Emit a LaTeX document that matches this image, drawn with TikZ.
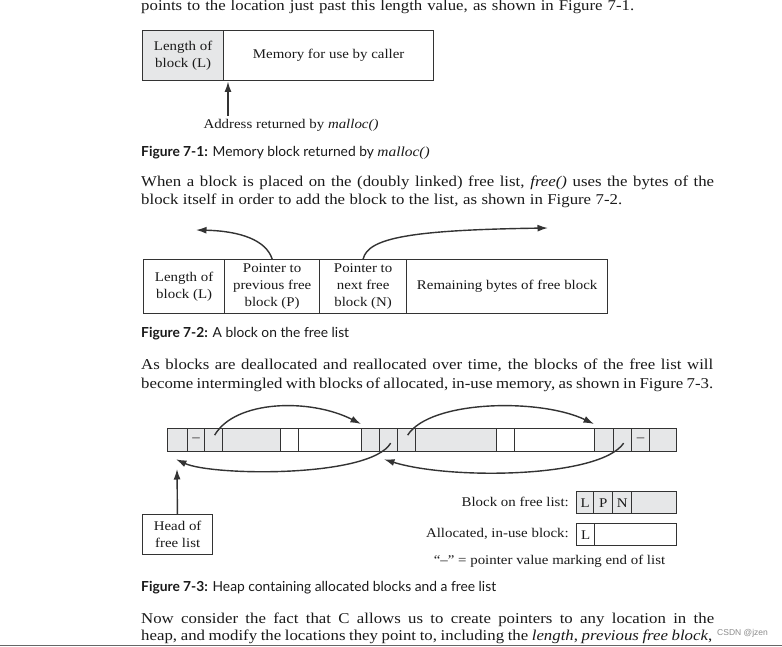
\documentclass[tikz,border=0pt]{standalone}
\usepackage{fontspec}
\setmainfont[FakeStretch=1.12]{Liberation Serif}
\newfontfamily\capfont{Lato}
\newfontfamily\wmfont{Liberation Sans}
\usetikzlibrary{arrows.meta,calc}
\definecolor{ink}{HTML}{333333}
\definecolor{cellgray}{HTML}{E6E7E8}
\definecolor{txt}{HTML}{1A1A1A}
\newcommand\bodyf{\fontsize{15}{18}\selectfont}
\newcommand\diagf{\fontsize{13.3}{17}\selectfont}
\newcommand\capf{\capfont\fontsize{13.8}{15}\selectfont}
\tikzset{
  cell/.style={draw=ink, line width=1.3pt, fill=white, anchor=north west, inner sep=0pt, align=center, font=\diagf, text=txt},
  gcell/.style={cell, fill=cellgray},
  arr/.style={draw=ink, line width=1.4pt, -{Latex[length=10.5pt,width=7pt]}},
  bodytext/.style={anchor=base west, inner sep=0pt, font=\bodyf, text=txt},
  captext/.style={anchor=base west, inner sep=0pt, font=\capf, text=txt},
  lbl/.style={inner sep=0pt, font=\diagf, text=txt},
}
\begin{document}
\begin{tikzpicture}[x=1pt,y=-1pt]
\useasboundingbox[fill=white] (0,0) rectangle (782,647);

% ---------- text lines ----------
\node[bodytext] (l0) at (141,10.5) {\makebox[493pt][s]{points to the location just past this length value, as shown in Figure 7-1.}};
\node[captext] (c1) at (141,157) {\textbf{Figure 7-1:} Memory block returned by {\rmfamily\itshape malloc()}};
\node[bodytext] (p2a) at (141,187) {\makebox[573pt][s]{When a block is placed on the (doubly linked) free list, \textit{free()} uses the bytes of the}};
\node[bodytext] (p2b) at (141,205) {\makebox[481pt][s]{block itself in order to add the block to the list, as shown in Figure 7-2.}};
\node[captext] (c2) at (141,337) {\textbf{Figure 7-2:} A block on the free list};
\node[bodytext] (p3a) at (141,369) {\makebox[572pt][s]{As blocks are deallocated and reallocated over time, the blocks of the free list will}};
\node[bodytext] (p3b) at (141,388) {\makebox[572pt][s]{become intermingled with blocks of allocated, in-use memory, as shown in Figure 7-3.}};
\node[captext] (c3) at (141,591) {\textbf{Figure 7-3:} Heap containing allocated blocks and a free list};
\node[bodytext] (p4a) at (141,623) {\makebox[573pt][s]{Now consider the fact that C allows us to create pointers to any location in the}};
\node[bodytext] (p4b) at (141,640.5) {\makebox[571pt][s]{heap, and modify the locations they point to, including the \textit{length}, \textit{previous free block},}};
\node[anchor=base west, inner sep=0pt, text=black!45, font=\wmfont\fontsize{8.5}{10}\selectfont] (wm) at (717,635) {CSDN @jzen};
\draw[line width=1.6pt, draw=black!60] (0,645.5) -- (782,645.5);

% ---------- Figure 7-1 ----------
\node[gcell, minimum width=81pt, minimum height=50pt] (len1) at (142,30) {Length of\\block (L)};
\node[cell, minimum width=210pt, minimum height=50pt] (mem1) at (223,30) {Memory for use by caller};
\node[lbl] (addr) at (291,125) {Address returned by \textit{malloc()}};
\coordinate (a1s) at (228,116);
\coordinate (a1t) at (228,81.5);
\draw[arr] (a1s) -- (a1t);

% ---------- Figure 7-2 ----------
\node[cell, minimum width=81pt, minimum height=54pt] (fL) at (143,259) {Length of\\block (L)};
\node[cell, minimum width=95pt, minimum height=54pt] (fP) at (224,259) {Pointer to\\previous free\\block (P)};
\node[cell, minimum width=87pt, minimum height=54pt] (fN) at (319,259) {Pointer to\\next free\\block (N)};
\node[cell, minimum width=201pt, minimum height=54pt] (fR) at (406,259) {Remaining bytes of free block};
\coordinate (prevend) at (196,230);
\coordinate (nextend) at (548,228);
\draw[arr] (fP.north) .. controls (266,240) and (240,231) .. (prevend);
\draw[arr] (fN.north) .. controls (368,238) and (410,230) .. (nextend);

% ---------- Figure 7-3 ----------
\begin{scope}[every node/.append style={minimum height=23pt}]
\node[gcell, minimum width=20pt] (b1L) at (167,428) {};
\node[gcell, minimum width=17pt] (b1P) at (187,428) {\raisebox{1pt}{–}};
\node[gcell, minimum width=18pt] (b1N) at (204,428) {};
\node[gcell, minimum width=58pt] (b1R) at (222,428) {};
\node[cell, minimum width=18pt] (a1L) at (280,428) {};
\node[cell, minimum width=63pt] (a1R) at (298,428) {};
\node[gcell, minimum width=18pt] (b2L) at (361,428) {};
\node[gcell, minimum width=18pt] (b2P) at (379,428) {};
\node[gcell, minimum width=18pt] (b2N) at (397,428) {};
\node[gcell, minimum width=81pt] (b2R) at (415,428) {};
\node[cell, minimum width=18pt] (a2L) at (496,428) {};
\node[cell, minimum width=80pt] (a2R) at (514,428) {};
\node[gcell, minimum width=19pt] (b3L) at (594,428) {};
\node[gcell, minimum width=18pt] (b3P) at (613,428) {};
\node[gcell, minimum width=18pt] (b3N) at (631,428) {\raisebox{1pt}{–}};
\node[gcell, minimum width=27pt] (b3R) at (649,428) {};
\end{scope}
\draw[arr] ([shift={(1,-5)}]b1N.center) .. controls (235,400) and (310,398) .. ([shift={(0,-4)}]b2L.north west);
\draw[arr] ([shift={(1,-5)}]b2N.center) .. controls (430,400) and (540,398) .. ([shift={(0,-4)}]b3L.north west);
\draw[arr] ([shift={(2,3)}]b2P.center) .. controls (370,478) and (212,476) .. ([shift={(9,7)}]b1L.south west);
\draw[arr] ([shift={(1,3)}]b3P.center) .. controls (600,478) and (450,480) .. ([shift={(23,7)}]b2L.south west);

\node[cell, minimum width=70pt, minimum height=40pt] (head) at (142,514) {Head of\\free list};
\coordinate (headtip) at (177,469);
\draw[arr] (head) -- (headtip);

% legend
\begin{scope}[every node/.append style={minimum height=22pt}]
\node[gcell, minimum width=17pt] (lgL) at (576,491) {L};
\node[gcell, minimum width=19pt] (lgP) at (593,491) {P};
\node[gcell, minimum width=19pt] (lgN) at (612,491) {N};
\node[gcell, minimum width=45pt] (lgR) at (631,491) {};
\node[cell, minimum width=18pt] (alL) at (576,523) {L};
\node[cell, minimum width=82pt] (alR) at (594,523) {};
\end{scope}
\node[lbl, anchor=east] (lgtxt) at (569,502) {Block on free list:};
\node[lbl, anchor=east] (altxt) at (569,534) {Allocated, in-use block:};
\node[lbl] (endtxt) at (549.5,561) {“–” = pointer value marking end of list};
\end{tikzpicture}
\end{document}
